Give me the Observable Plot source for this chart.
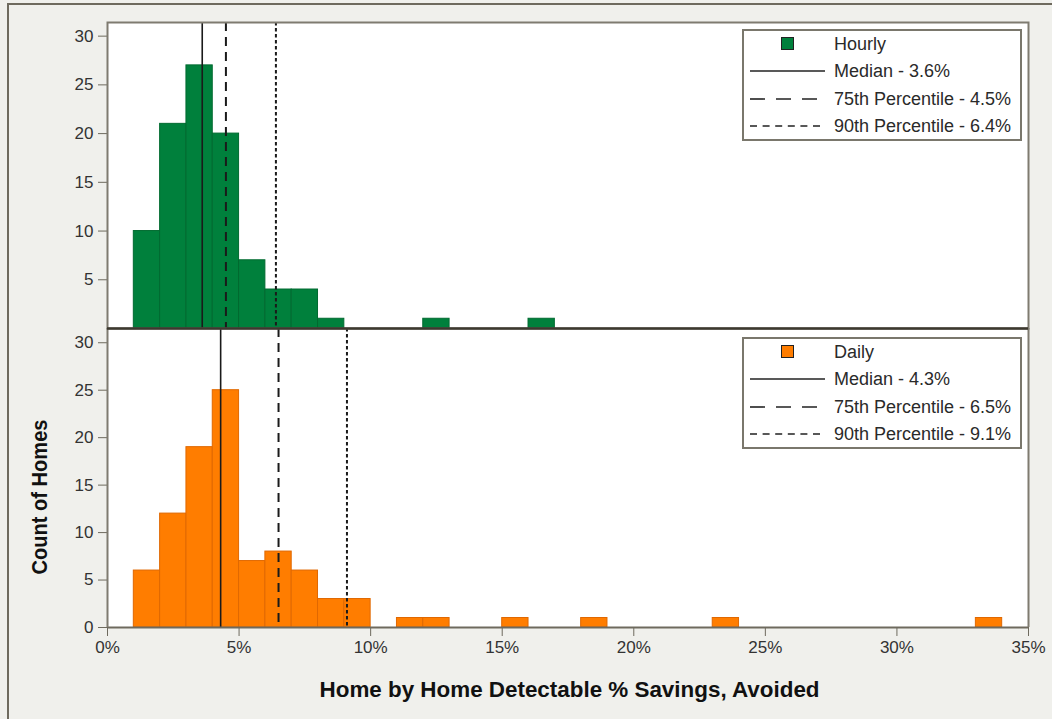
<!DOCTYPE html>
<html>
<head>
<meta charset="utf-8">
<script src="https://cdn.jsdelivr.net/npm/d3@7"></script>
<script src="https://cdn.jsdelivr.net/npm/@observablehq/plot@0.6"></script>
<style>
  html, body { margin: 0; padding: 0; background: #f0f0ec; }
  #chart { position: relative; width: 1052px; height: 719px; background: #f0f0ec; overflow: hidden; font-family: Arial, "Liberation Sans", sans-serif; }
  #chart > svg { position: absolute; left: 0; overflow: visible; max-width: none !important; }
  .outer-left { position: absolute; left: 7px; top: 3px; width: 2px; height: 716px; background: #6e6a5e; }
  .outer-top { position: absolute; left: 7px; top: 3px; width: 1045px; height: 2px; background: #6e6a5e; }
  .legend { position: absolute; left: 742px; width: 276px; height: 108px; background: #fff; border: 2px solid #7a776c; }
  .legend .row { position: absolute; left: 0; height: 20px; width: 276px; }
  .legend .txt { position: absolute; left: 90px; top: 0; font-family: Arial, "Liberation Sans", sans-serif; font-size: 18px; color: #2a2a2a; line-height: 20px; white-space: nowrap; }
  .legend .sw { position: absolute; left: 37px; top: 3px; width: 11px; height: 11px; border: 1.5px solid #222; }
  .legend svg.ln { position: absolute; left: 6px; top: 0; width: 76px; height: 20px; }
  .title { position: absolute; font-family: "Liberation Sans", Arial, sans-serif; font-weight: bold; font-size: 22px; color: #111; white-space: nowrap; line-height: 1; }
</style>
</head>
<body>
<div id="chart">
  <div class="outer-left"></div>
  <div class="outer-top"></div>
</div>
<script>
// ---- Data ----
const binStarts = [1, 2, 3, 4, 5, 6, 7, 8, 9, 10, 11, 12, 13, 14, 15, 16, 17, 18, 19, 20, 21, 22, 23, 24, 25, 26, 27, 28, 29, 30, 31, 32, 33];
const hourlyCounts = [10, 21, 27, 20, 7, 4, 4, 1, 0, 0, 0, 1, 0, 0, 0, 1, 0, 0, 0, 0, 0, 0, 0, 0, 0, 0, 0, 0, 0, 0, 0, 0, 0];
const dailyCounts  = [6, 12, 19, 25, 7, 8, 6, 3, 3, 0, 1, 1, 0, 0, 1, 0, 0, 1, 0, 0, 0, 0, 1, 0, 0, 0, 0, 0, 0, 0, 0, 0, 1];
const hourlyStats = [3.6, 4.5, 6.4];   // median, 75th, 90th
const dailyStats  = [4.3, 6.5, 9.1];
const statNames = ["Median", "75th Percentile", "90th Percentile"];
const seriesNames = ["Hourly", "Daily"];
const xTicks = [0, 5, 10, 15, 20, 25, 30, 35];
const yTicksTop = [5, 10, 15, 20, 25, 30];
const yTicksBottom = [0, 5, 10, 15, 20, 25, 30];
const xTitle = "Home by Home Detectable % Savings, Avoided";
const yTitle = "Count of Homes";

const colors = {Hourly: {fill: "#00803c", stroke: "#006a30"}, Daily: {fill: "#ff7d00", stroke: "#e06800"}};
const dashes = [null, "9,6", "3.5,2.5"];
const dashWidths = [1.6, 2, 2];

function bins(counts) {
  return binStarts.map((s, i) => ({x1: s, x2: s + 1, y: counts[i]})).filter(d => d.y > 0);
}
function statRules(stats) {
  return stats.map((v, i) => Plot.ruleX([v], {stroke: "#1a1a1a", strokeWidth: dashWidths[i], strokeDasharray: dashes[i]}));
}

const chart = document.getElementById("chart");
const W = 1052, ML = 107, MR = 24;
const axisFont = {fontSize: 17, fill: "#333"};
const svgStyle = {background: "transparent", fontFamily: "Arial, 'Liberation Sans', sans-serif", fontSize: "17px", color: "#333", maxWidth: "none"};

// ---- Bottom panel (Daily) ----
const bottomPlot = Plot.plot({
  width: W, height: 391,
  marginLeft: ML, marginRight: MR, marginTop: 0, marginBottom: 92,
  style: svgStyle,
  x: {domain: [0, 35]},
  y: {domain: [0, 31.5]},
  marks: [
    Plot.frame({fill: "white", stroke: null}),
    Plot.rectY(bins(dailyCounts), {x1: "x1", x2: "x2", y: "y", fill: colors.Daily.fill, stroke: colors.Daily.stroke, strokeWidth: 1}),
    ...statRules(dailyStats),
    Plot.axisX({ticks: xTicks, tickFormat: d => d + "%", tickSize: 9, tickPadding: 4, stroke: "#6e6a5e", label: null, ...axisFont}),
    Plot.axisY({ticks: yTicksBottom, tickSize: 9, tickPadding: 5, stroke: "#6e6a5e", label: null, ...axisFont}),
    Plot.ruleY([0], {stroke: "#6e6a5e", strokeWidth: 2}),
    Plot.ruleX([0, 35], {stroke: "#7f7b70", strokeWidth: 2})
  ]
});
bottomPlot.style.top = "328px";
chart.appendChild(bottomPlot);

// ---- Top panel (Hourly) ----
const topPlot = Plot.plot({
  width: W, height: 330,
  marginLeft: ML, marginRight: MR, marginTop: 22, marginBottom: 2,
  style: svgStyle,
  x: {domain: [0, 35], axis: null},
  y: {domain: [0, 31.4]},
  marks: [
    Plot.frame({fill: "white", stroke: null}),
    Plot.rectY(bins(hourlyCounts), {x1: "x1", x2: "x2", y: "y", fill: colors.Hourly.fill, stroke: colors.Hourly.stroke, strokeWidth: 1}),
    ...statRules(hourlyStats),
    Plot.axisY({ticks: yTicksTop, tickSize: 9, tickPadding: 5, stroke: "#6e6a5e", label: null, ...axisFont}),
    Plot.frame({stroke: "#7f7b70", strokeWidth: 2}),
    Plot.ruleY([0], {stroke: "#3c392f", strokeWidth: 2.5})
  ]
});
topPlot.style.top = "0px";
chart.appendChild(topPlot);

// ---- Legends ----
function legend(name, stats, topPx) {
  const box = document.createElement("div");
  box.className = "legend";
  box.style.top = topPx + "px";
  const rows = [{label: name, kind: "swatch"}].concat(stats.map((v, i) => ({label: statNames[i] + " - " + v + "%", kind: i})));
  rows.forEach((r, j) => {
    const row = document.createElement("div");
    row.className = "row";
    row.style.top = (3 + j * 27.3) + "px";
    if (r.kind === "swatch") {
      const sw = document.createElement("div");
      sw.className = "sw";
      sw.style.background = colors[name].fill;
      row.appendChild(sw);
    } else {
      const ns = "http://www.w3.org/2000/svg";
      const s = document.createElementNS(ns, "svg");
      s.setAttribute("class", "ln");
      const l = document.createElementNS(ns, "line");
      l.setAttribute("x1", 0); l.setAttribute("x2", 75);
      l.setAttribute("y1", 10); l.setAttribute("y2", 10);
      l.setAttribute("stroke", "#222");
      l.setAttribute("stroke-width", 1.6);
      if (r.kind === 1) l.setAttribute("stroke-dasharray", "15,11");
      if (r.kind === 2) l.setAttribute("stroke-dasharray", "7,5.6");
      s.appendChild(l);
      s.style.position = "absolute";
      row.appendChild(s);
    }
    const t = document.createElement("div");
    t.className = "txt";
    t.textContent = r.label;
    row.appendChild(t);
    box.appendChild(row);
  });
  chart.appendChild(box);
}
legend(seriesNames[0], hourlyStats, 29);
legend(seriesNames[1], dailyStats, 337);

// ---- Axis titles (condensed bold, fitted to the reference width) ----
function title(text, cx, cy, targetW, rotate) {
  const el = document.createElement("div");
  el.className = "title";
  el.textContent = text;
  el.style.left = "0px"; el.style.top = "0px";
  chart.appendChild(el);
  const w = el.getBoundingClientRect().width;
  const h = el.getBoundingClientRect().height;
  const s = targetW / w;
  el.style.left = (cx - w / 2) + "px";
  el.style.top = (cy - h / 2) + "px";
  el.style.transformOrigin = "50% 50%";
  el.style.transform = (rotate ? "rotate(-90deg) " : "") + "scaleX(" + s + ")";
}
title(xTitle, 570, 690, 500, false);
title(yTitle, 40, 497, 155, true);
</script>
</body>
</html>
